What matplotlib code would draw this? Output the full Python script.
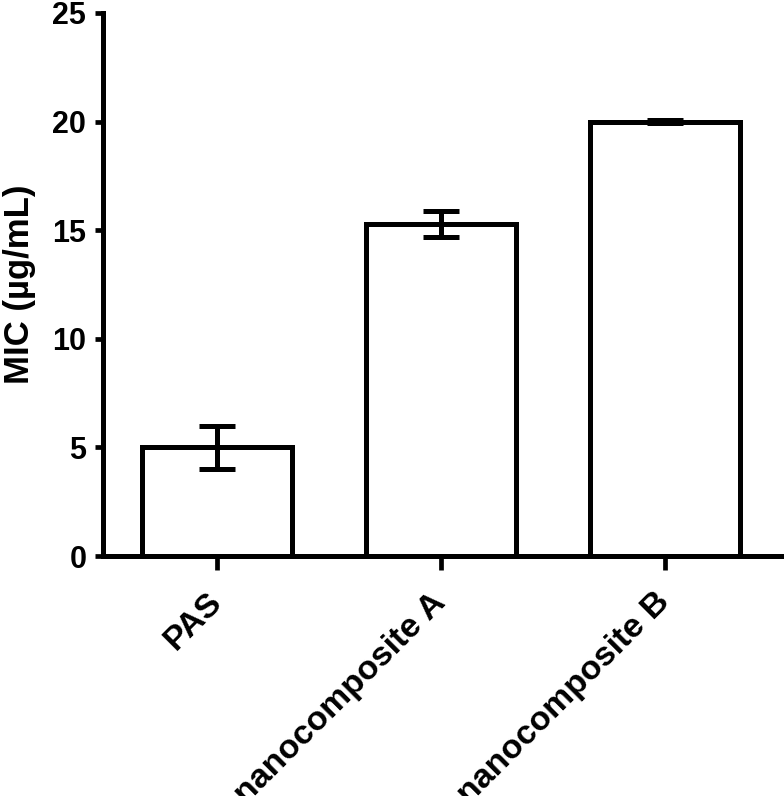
import matplotlib
matplotlib.use("Agg")
import matplotlib.pyplot as plt
import numpy as np

plt.rcParams['font.family'] = ['Liberation Sans', 'DejaVu Sans']
plt.rcParams['font.weight'] = 'bold'

groups = ['PAS', 'nanocomposite A', 'nanocomposite B']
mic = [5.0, 15.3, 20.0]
mic_err = [1.0, 0.6, 0.08]
yticks = [0, 5, 10, 15, 20, 25]

fig = plt.figure(figsize=(7.84, 7.96), dpi=100)
ax = fig.add_axes([103 / 784, 240 / 796, 1 - 103 / 784, 543 / 796])

x = np.arange(len(groups))
ax.bar(x, mic, width=0.67, color='white', edgecolor='black', linewidth=3.6, zorder=2)
ax.errorbar(x, mic, yerr=mic_err, fmt='none', ecolor='black', elinewidth=3.6,
            capsize=13, capthick=3.6, zorder=3)

ax.set_xlim(-0.51, 2.53)
ax.set_ylim(0, 25)
ax.set_yticks(yticks)
ax.set_xticks(x)
ax.set_xticklabels(groups, rotation=45, ha='right', va='center', rotation_mode='anchor',
                   fontsize=24.5, fontweight='bold')
ax.tick_params(axis='y', labelsize=22, width=3.4, length=6, pad=6)
ax.tick_params(axis='x', width=3.4, length=10, pad=20)
for lab in ax.get_yticklabels():
    lab.set_fontweight('bold')

ax.set_ylabel('MIC (µg/mL)', fontsize=25, fontweight='bold', labelpad=12)

for s in ['top', 'right']:
    ax.spines[s].set_visible(False)
for s in ['left', 'bottom']:
    ax.spines[s].set_linewidth(3.6)

fig.savefig('out.png', dpi=100)
